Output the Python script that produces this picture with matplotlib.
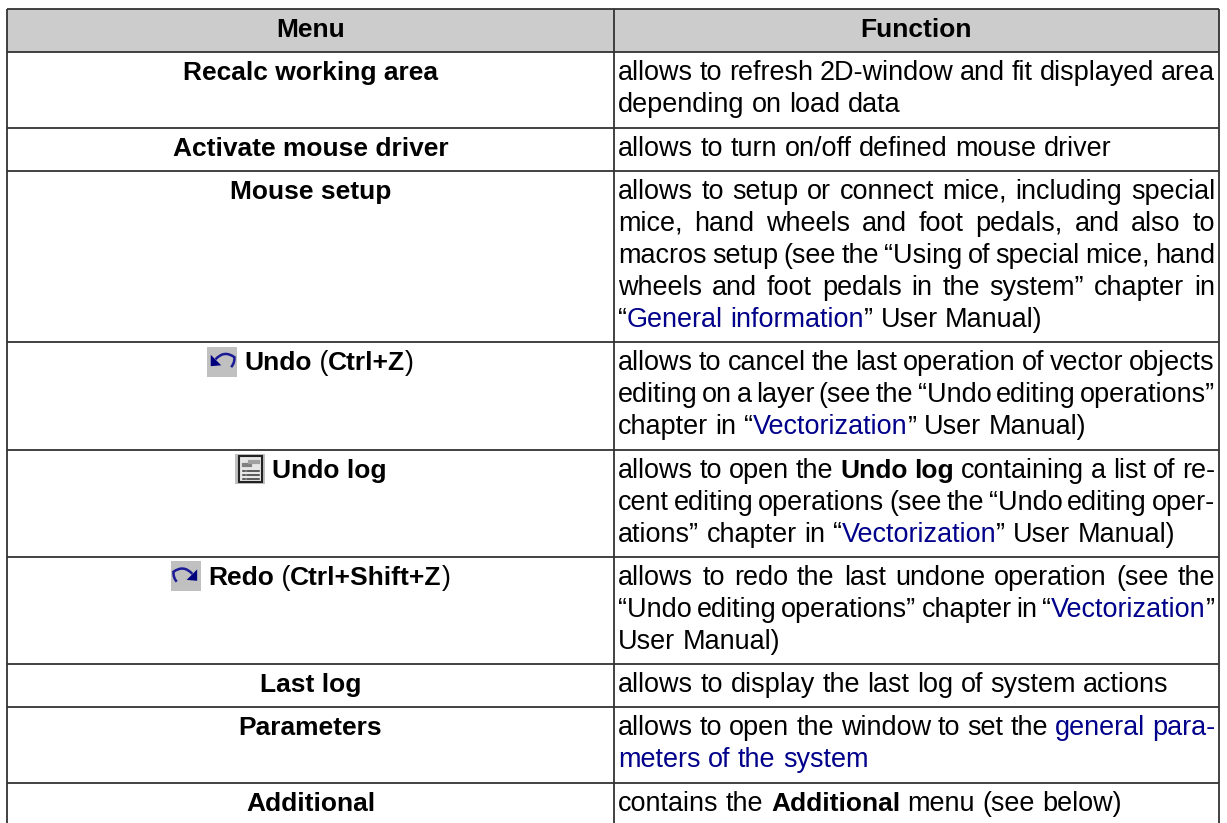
import matplotlib
matplotlib.use("Agg")
import matplotlib.pyplot as plt
from matplotlib.patches import Rectangle, PathPatch, Polygon
from matplotlib.path import Path

plt.rcParams["font.family"] = ["Liberation Sans", "DejaVu Sans"]

W, H = 1227, 823
FONT_SIZE = 19.47
BOLD_SIZE = 19.0
BLUE = "#00008b"
LINE = "#333333"
HEADER_BG = "#cccccc"

headers = ["Menu", "Function"]

# each menu entry is a label and an icon name or None
menu_items = [
    ("Recalc working area", None),
    ("Activate mouse driver", None),
    ("Mouse setup", None),
    ("Undo (Ctrl+Z)", "undo"),
    ("Undo log", "log"),
    ("Redo (Ctrl+Shift+Z)", "redo"),
    ("Last log", None),
    ("Parameters", None),
    ("Additional", None),
]

# function text: (line, justified), inline markup: *bold*, _link_
function_lines = [
    [("allows to refresh 2D-window and fit displayed area", True),
     ("depending on load data", False)],
    [("allows to turn on/off defined mouse driver", False)],
    [("allows to setup or connect mice, including special", True),
     ("mice, hand wheels and foot pedals, and also to", True),
     ("macros setup (see the “Using of special mice, hand", True),
     ("wheels and foot pedals in the system” chapter in", True),
     ("“_General_ _information_” User Manual)", False)],
    [("allows to cancel the last operation of vector objects", True),
     ("editing on a layer (see the “Undo editing operations”", True),
     ("chapter in “_Vectorization_” User Manual)", False)],
    [("allows to open the *Undo* *log* containing a list of re-", True),
     ("cent editing operations (see the “Undo editing oper-", True),
     ("ations” chapter in “_Vectorization_” User Manual)", False)],
    [("allows to redo the last undone operation (see the", True),
     ("“Undo editing operations” chapter in “_Vectorization_”", True),
     ("User Manual)", False)],
    [("allows to display the last log of system actions", False)],
    [("allows to open the window to set the _general_ _para-_", True),
     ("_meters_ _of_ _the_ _system_", False)],
    [("contains the *Additional* menu (see below)", False)],
]

col_edges = [7, 614, 1219]
top = 9.0
base_h = 11.3
line_h = 32.0

fig = plt.figure(figsize=(W / 100, H / 100), dpi=100)
ax = fig.add_axes([0, 0, 1, 1])
ax.set_xlim(0, W)
ax.set_ylim(H, 0)
ax.axis("off")
renderer = fig.canvas.get_renderer()


def parse(word):
    if word.startswith("*"):
        return word.strip("*"), "bold", "black"
    if "_" in word:
        a, b = word.index("_"), word.rindex("_")
        return (word[:a], word[a + 1:b], word[b + 1:]), "normal", BLUE
    return word, "normal", "black"


def size_of(weight):
    return BOLD_SIZE if weight == "bold" else FONT_SIZE


def text_width(s, weight):
    t = ax.text(0, 0, s.replace(" ", "\u00a0"), fontsize=size_of(weight), fontweight=weight)
    w = t.get_window_extent(renderer).width
    t.remove()
    return w


def put(x, y, s, weight="normal", color="black"):
    ax.text(x, y, s, fontsize=size_of(weight), fontweight=weight, color=color, va="baseline")
    return x + text_width(s, weight)


def draw_line(line, x0, x1, y, justified):
    words = line.split(" ")
    widths = []
    for w in words:
        parsed, weight, color = parse(w)
        if isinstance(parsed, tuple):
            widths.append(sum(text_width(p, "normal") for p in parsed if p))
        else:
            widths.append(text_width(parsed, weight))
    space = text_width("a a", "normal") - text_width("aa", "normal")
    if justified:
        space = (x1 - x0 - sum(widths)) / (len(words) - 1)
    x = x0
    for w, width in zip(words, widths):
        parsed, weight, color = parse(w)
        if isinstance(parsed, tuple):
            xx = put(x, y, parsed[0]) if parsed[0] else x
            xx = put(xx, y, parsed[1], color=BLUE)
            if parsed[2]:
                put(xx, y, parsed[2])
        else:
            put(x, y, parsed, weight, color)
        x += width + space


def draw_icon(name, x, y0, size=30):
    def pt(u, v, flip=False):
        return (x + size * ((1 - u) if flip else u), y0 + size * v)

    ax.add_patch(Rectangle((x, y0), size, size, fc="#c0c0c0", ec="none", zorder=2))
    if name in ("undo", "redo"):
        flip = name == "redo"
        verts = [pt(0.28, 0.42, flip), pt(0.57, 0.1, flip), pt(0.91, 0.35, flip), pt(0.92, 0.55, flip),
                 pt(0.8, 0.68, flip)]
        codes = [Path.MOVETO, Path.CURVE3, Path.CURVE3, Path.CURVE3, Path.CURVE3]
        ax.add_patch(PathPatch(Path(verts, codes), fc="none", ec="#1a1a96", lw=1.8, zorder=3))
        ax.add_patch(Polygon([pt(0.12, 0.27, flip), pt(0.12, 0.65, flip), pt(0.47, 0.62, flip)],
                             fc="#00007f", ec="none", zorder=4))
    else:
        ax.add_patch(Rectangle((x + 4, y0 + 1.5), size - 7, size - 3.5, fc="#e6e6e6", ec="#222222", lw=1.5, zorder=3))
        for frac in (0.56, 0.7, 0.84):
            ax.plot([x + 12, x + size - 6], [y0 + size * frac] * 2, color="#333333", lw=1.1, zorder=4)
            ax.plot([x + 8, x + 10], [y0 + size * frac] * 2, color="#333333", lw=1.1, zorder=4)
        ax.plot([x + 9, x + 15], [y0 + 11, y0 + 11], color="#808080", lw=3, zorder=4)
        ax.plot([x + 15, x + size - 7], [y0 + 8, y0 + 8], color="#a0a0a0", lw=3, zorder=4)


# header
row_h0 = base_h + line_h
ax.add_patch(Rectangle((col_edges[0], top), col_edges[2] - col_edges[0], row_h0, fc=HEADER_BG, ec="none"))
for i, h in enumerate(headers):
    ax.text((col_edges[i] + col_edges[i + 1]) / 2, top + 28, h, ha="center", va="baseline",
            fontsize=BOLD_SIZE, fontweight="bold")

edges = [top, top + row_h0]
for (label, icon), lines in zip(menu_items, function_lines):
    y0 = edges[-1]
    edges.append(y0 + base_h + line_h * len(lines))
    base = y0 + 28
    # bold menu label, centred, icon in front of it
    icon_w = 37 if icon else 0
    width = text_width(label, "bold") + icon_w
    x = (col_edges[0] + col_edges[1]) / 2 - width / 2
    if icon:
        draw_icon(icon, x, y0 + 4.5)
    x += icon_w
    if "(" in label:
        name, keys = label.split(" (")
        x = put(x, base, name, "bold")
        x = put(x, base, "\u00a0(")
        x = put(x, base, keys[:-1], "bold")
        put(x, base, ")")
    else:
        put(x, base, label, "bold")
    for j, (line, justified) in enumerate(lines):
        draw_line(line, col_edges[1] + 4, col_edges[2] - 4, base + j * line_h, justified)

# grid, no closing line at the bottom of the picture
for y in edges:
    ax.plot([col_edges[0], col_edges[2]], [y, y], color=LINE, lw=1.3, solid_capstyle="butt")
for x in col_edges:
    ax.plot([x, x], [top, H], color=LINE, lw=1.3, solid_capstyle="butt")

fig.savefig("out.png", dpi=100)
